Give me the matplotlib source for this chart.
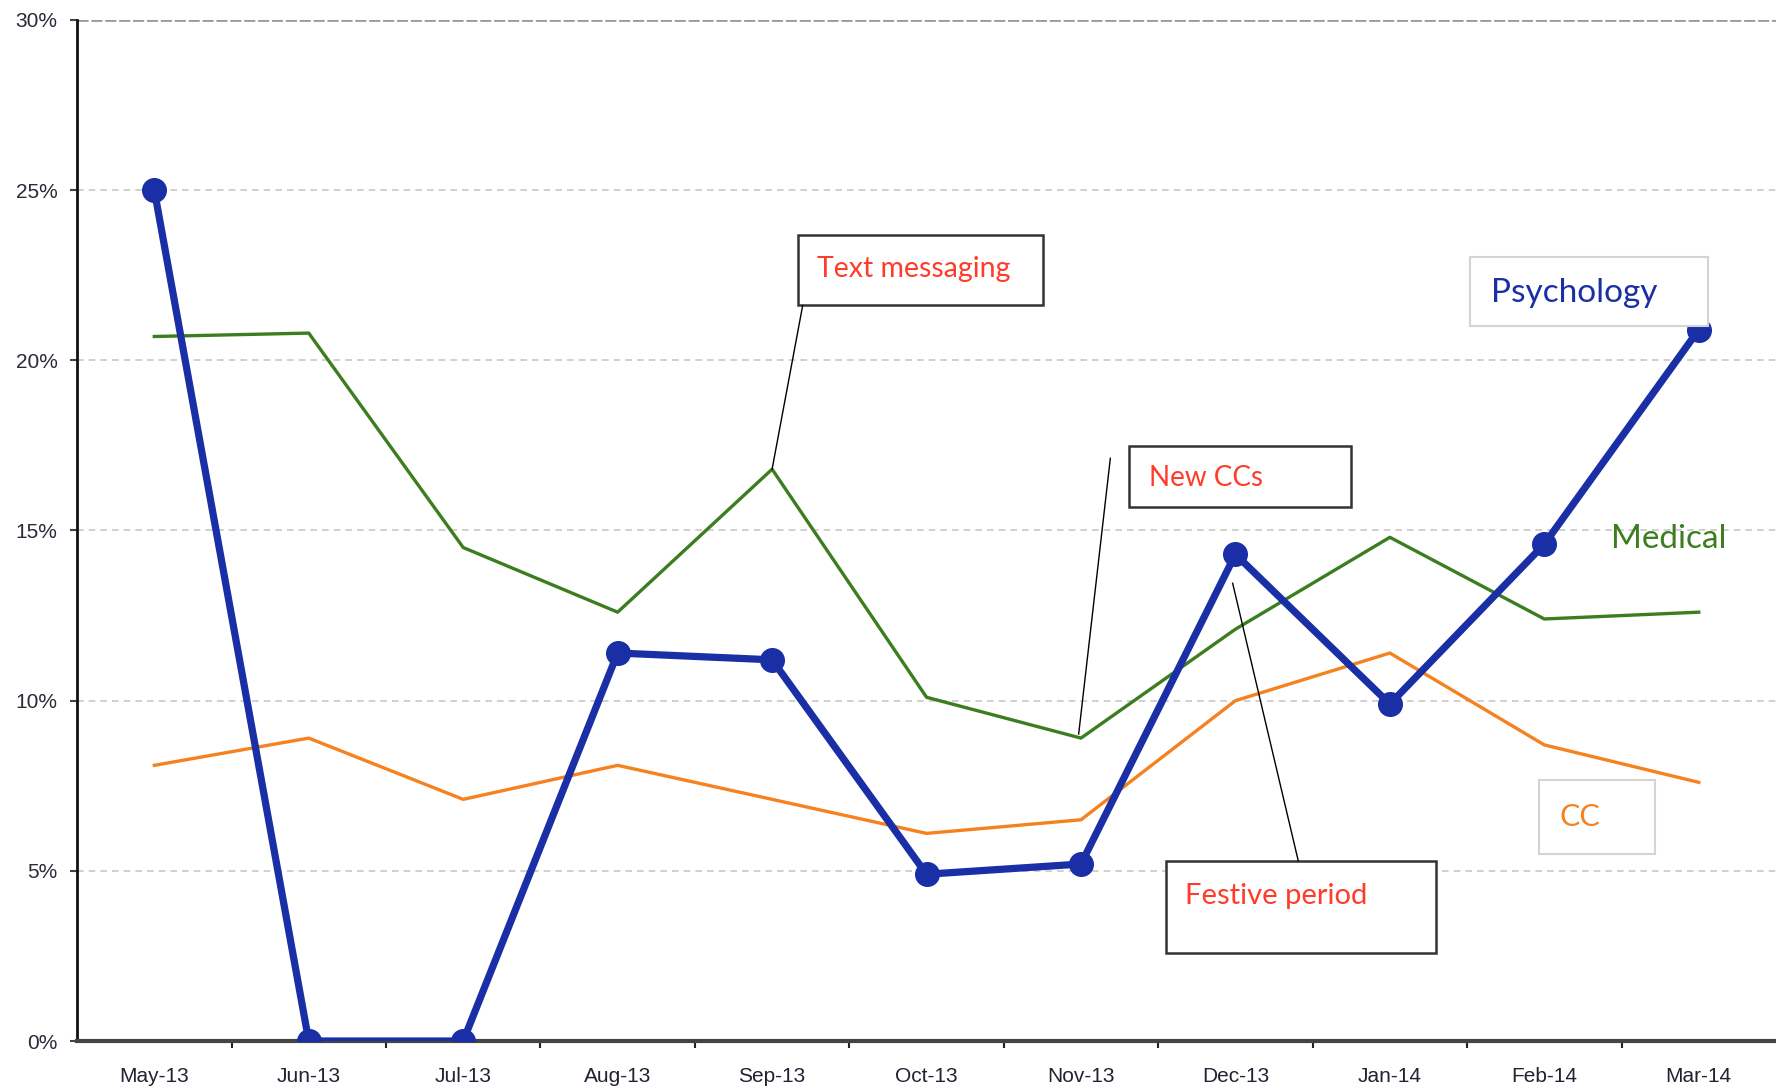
import numpy as np
import matplotlib.pyplot as plt
from matplotlib.patches import Rectangle


# data (percent)
months = ['May-13', 'Jun-13', 'Jul-13', 'Aug-13', 'Sep-13', 'Oct-13',
          'Nov-13', 'Dec-13', 'Jan-14', 'Feb-14', 'Mar-14']
psychology = [25.0, 0.0, 0.0, 11.4, 11.2, 4.9, 5.2, 14.3, 9.9, 14.6, 20.9]
medical = [20.7, 20.8, 14.5, 12.6, 16.8, 10.1, 8.9, 12.1, 14.8, 12.4, 12.6]
cc = [8.1, 8.9, 7.1, 8.1, 7.1, 6.1, 6.5, 10.0, 11.4, 8.7, 7.6]
yticks = [0, 5, 10, 15, 20, 25, 30]

blue = '#1a2ea6'
green = '#3b7d1f'
orange = '#f5821f'
red = '#ff3b2a'
tick_font = ['Liberation Sans Narrow', 'Liberation Sans', 'DejaVu Sans']
note_font = ['Lato', 'DejaVu Sans']

fig = plt.figure(figsize=(17.76, 10.92), dpi=100)
ax = fig.add_axes([0.0434, 0.0467, 0.9566, 0.935])
x = np.arange(len(months))

#gridlines
for v in yticks[1:-1]:
    ax.axhline(v, color='#c8c8c8', lw=1.2, ls=(0, (4, 3)), zorder=1)
ax.axhline(30, color='#9a9a9a', lw=2, ls=(0, (4, 1)), zorder=1)

#series
ax.plot(x, medical, color=green, lw=2.4, zorder=3)
ax.plot(x, cc, color=orange, lw=2.4, zorder=3)
ax.plot(x, psychology, color=blue, lw=5.2, marker='o', ms=17, zorder=4)

ax.set_xlim(-0.5, 10.5)
ax.set_ylim(0, 30)
ax.set_yticks(yticks)
ax.set_yticklabels([f'{v}%' for v in yticks], family=tick_font, fontsize=15, color='#2a2a38')
ax.set_xticks(x)
ax.set_xticklabels(months, family=tick_font, fontsize=15, color='#222233')
ax.set_xticks(np.arange(0.5, 10, 1), minor=True)
ax.tick_params(axis='x', which='major', length=0, pad=19)
ax.tick_params(axis='x', which='minor', length=5, width=1.5, direction='out', color='#222222')
ax.tick_params(axis='y', length=5, width=1.5, direction='out', pad=9, color='#444444')
for s in ['top', 'right']:
    ax.spines[s].set_visible(False)
ax.spines['left'].set_linewidth(2)
ax.spines['left'].set_color('#111111')
ax.spines['bottom'].set_linewidth(3)
ax.spines['bottom'].set_color('#444444')


def box(x0, y0, x1, y1, edge, lw=1.8):
    ax.add_patch(Rectangle((x0, y0), x1 - x0, y1 - y0, facecolor='white',
                           edgecolor=edge, lw=lw, zorder=5, clip_on=False))


#annotations
box(4.168, 21.64, 5.751, 23.68, '#333333')
ax.text(4.293, 22.68, 'Text messaging', color=red, family=note_font, fontsize=20.5, va='center', zorder=6)
ax.plot([4.198, 4.0], [21.61, medical[4]], color='black', lw=1, zorder=5)

box(6.308, 15.68, 7.751, 17.48, '#333333')
ax.text(6.44, 16.55, 'New CCs', color=red, family=note_font, fontsize=20, va='center', zorder=6)
ax.plot([6.19, 5.985], [17.12, 9.02], color='black', lw=1, zorder=5)

box(6.549, 2.60, 8.300, 5.29, '#333333')
ax.text(6.674, 4.26, 'Festive period', color=red, family=note_font, fontsize=21, va='center', zorder=6)
ax.plot([7.407, 6.982], [5.29, 13.45], color='black', lw=1, zorder=5)

box(8.520, 21.01, 10.059, 23.04, '#d4d4d4', lw=1.5)
ax.text(8.652, 21.98, 'Psychology', color=blue, family=note_font, fontsize=24, va='center', zorder=6)

ax.text(9.429, 14.75, 'Medical', color=green, family=note_font, fontsize=24, va='center', zorder=6)

box(8.967, 5.49, 9.714, 7.66, '#d4d4d4', lw=1.5)
ax.text(9.099, 6.59, 'CC', color=orange, family=note_font, fontsize=22, va='center', zorder=6)

plt.savefig('out.png', dpi=100)
